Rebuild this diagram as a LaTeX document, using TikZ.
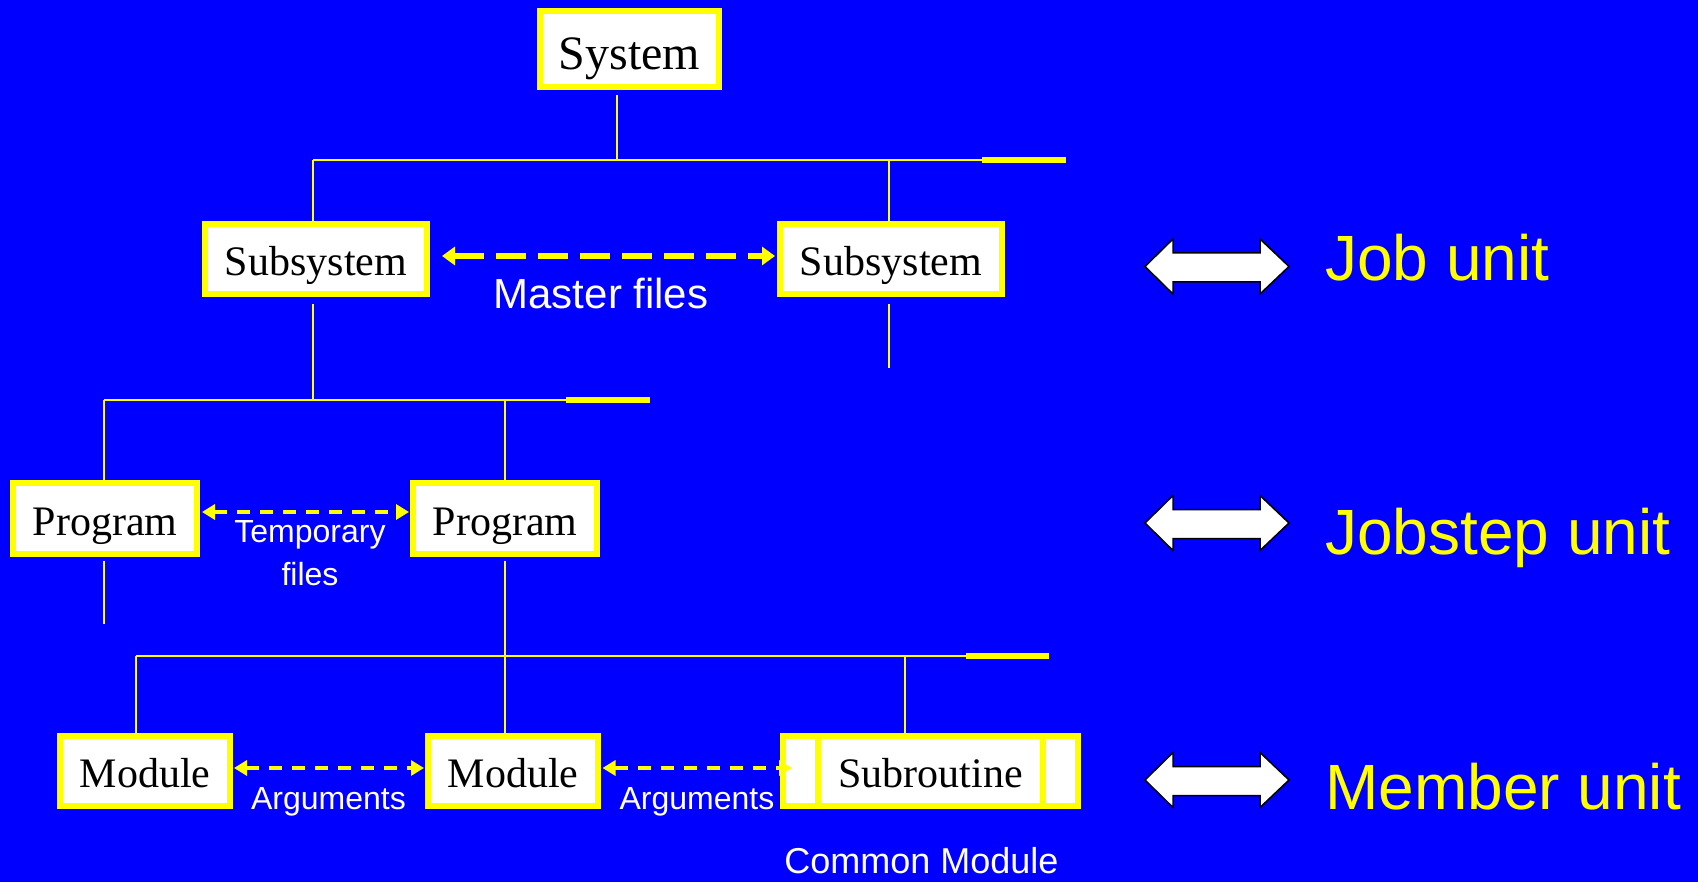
\documentclass[tikz,border=0pt]{standalone}
\usepackage{fontspec}
\setmainfont{Liberation Serif}
\newfontfamily\sansf{Liberation Sans}
\usetikzlibrary{arrows.meta}
\definecolor{bgblue}{RGB}{0,0,255}
\definecolor{ylw}{RGB}{255,255,0}
\tikzset{
  box/.style={draw=ylw, line width=6pt, fill=white, inner sep=0pt, text=black,
    font=\fontsize{42}{48}\selectfont, text height=33pt, text depth=0pt},
  conn/.style={draw=ylw, line width=2pt},
  bar/.style={draw=ylw, line width=6pt},
  bigflow/.style={draw=ylw, line width=6pt, dash pattern=on 30pt off 12pt,
    arrows={Triangle[length=13pt,width=18pt]-Triangle[length=13pt,width=18pt]}},
  smallflow/.style={draw=ylw, line width=4pt, dash pattern=on 13pt off 10pt,
    arrows={Triangle[length=13pt,width=15pt]-Triangle[length=13pt,width=15pt]}},
  wlabel/.style={text=white, inner sep=0pt, font=\sansf\fontsize{32}{43}\selectfont},
  lvl/.style={text=ylw, inner sep=0pt, anchor=base west, font=\sansf\fontsize{64}{70}\selectfont},
  dblarrow/.style={fill=white, draw=black, line width=1.5pt, line join=miter}
}
\begin{document}
\begin{tikzpicture}[x=1pt,y=-1pt]
\fill[bgblue] (0,0) rectangle (1698,882);
\useasboundingbox (0,0) rectangle (1698,882);

% boxes
\node[box, minimum width=179pt, minimum height=76pt, font=\fontsize{48}{54}\selectfont, text height=41pt] (sys) at (629.5,49.3) {System};
\node[box, minimum width=222pt, minimum height=70pt] (ss1) at (316,259) {Subsystem};
\node[box, minimum width=222pt, minimum height=70pt] (ss2) at (891,259) {Subsystem};
\node[box, minimum width=184pt, minimum height=71pt] (p1) at (105,518.5) {Program};
\node[box, minimum width=184pt, minimum height=71pt] (p2) at (505,518.5) {Program};
\node[box, minimum width=170pt, minimum height=70pt] (m1) at (145,771) {Module};
\node[box, minimum width=170pt, minimum height=70pt] (m2) at (513,771) {Module};
\node[box, minimum width=295pt, minimum height=70pt] (sub) at (930.5,771) {Subroutine};
\draw[bar] ([xshift=38pt]sub.north west) -- ([xshift=38pt]sub.south west);
\draw[bar] ([xshift=-38pt]sub.north east) -- ([xshift=-38pt]sub.south east);

% junction coordinates
\coordinate (h1S) at (617,160);
\coordinate (h1L) at (313,160);
\coordinate (h1B) at (889,160);
\coordinate (h1R) at (982,160);
\coordinate (h1E) at (1066,160);
\coordinate (h2S) at (313,400);
\coordinate (h2L) at (104,400);
\coordinate (h2B) at (505,400);
\coordinate (h2R) at (566,400);
\coordinate (h2E) at (650,400);
\coordinate (h3L) at (136,656);
\coordinate (h3B) at (905,656);
\coordinate (h3R) at (966,656);
\coordinate (h3E) at (1049,656);
\coordinate (ss2end) at (889,368);
\coordinate (p1end) at (104,624);

% level 1 connectors
\draw[conn] ([yshift=-5pt]sys.south -| h1S) -- (h1S);
\draw[conn] (h1L) -- (h1R);
\draw[bar] (h1R) -- (h1E);
\draw[conn] (h1L) -- (h1L |- ss1.north);
\draw[conn] (h1B) -- (h1B |- ss2.north);
% level 2 connectors
\draw[conn] ([yshift=-7pt]ss1.south -| h2S) -- (h2S);
\draw[conn] ([yshift=-7pt]ss2.south -| ss2end) -- (ss2end);
\draw[conn] (h2L) -- (h2R);
\draw[bar] (h2R) -- (h2E);
\draw[conn] (h2L) -- (h2L |- p1.north);
\draw[conn] (h2B) -- (h2B |- p2.north);
% level 3 connectors
\draw[conn] ([yshift=-4pt]p1.south -| p1end) -- (p1end);
\draw[conn] ([yshift=-4pt]p2.south -| h2B) -- (h2B |- m2.north);
\draw[conn] (h3L) -- (h3R);
\draw[bar] (h3R) -- (h3E);
\draw[conn] (h3L) -- (h3L |- m1.north);
\draw[conn] (h3B) -- (h3B |- sub.north);

% data-flow arrows
\coordinate (mfy) at (0,256);
\coordinate (tfy) at (0,512);
\coordinate (agy) at (0,768);
\draw[bigflow] ([xshift=12pt]ss1.east |- mfy) -- ([xshift=-2pt]ss2.west |- mfy);
\draw[smallflow] ([xshift=2pt]p1.east |- tfy) -- ([xshift=-1pt]p2.west |- tfy);
\draw[smallflow] ([xshift=1pt]m1.east |- agy) -- ([xshift=-1pt]m2.west |- agy);
\draw[smallflow] ([xshift=1.5pt]m2.east |- agy) -- ([xshift=12pt]sub.west |- agy);

% white labels
\node[wlabel, anchor=base, font=\sansf\fontsize{42}{48}\selectfont] (mf) at (601,309) {Master files};
\node[wlabel, anchor=north, align=center] (tf) at (310,520) {Temporary\\files};
\node[wlabel, anchor=base] (ag1) at (328.5,809) {Arguments};
\node[wlabel, anchor=base] (ag2) at (697,809) {Arguments};
\node[wlabel, anchor=base, font=\sansf\fontsize{36}{42}\selectfont] (cm) at (921.5,873) {Common Module};

% level markers
\foreach \yy [count=\i] in {266.5,523,780} {
  \draw[dblarrow] (1145,\yy) -- (1173,\yy-27.5) -- (1173,\yy-13.5) -- (1260,\yy-13.5)
    -- (1260,\yy-27.5) -- (1289,\yy) -- (1260,\yy+27.5) -- (1260,\yy+15.5)
    -- (1173,\yy+15.5) -- (1173,\yy+27.5) -- cycle;
}
\node[lvl] (lj) at (1325,281) {Job unit};
\node[lvl] (ljs) at (1325,554) {Jobstep unit};
\node[lvl] (lm) at (1325,809) {Member unit};
\end{tikzpicture}
\end{document}
